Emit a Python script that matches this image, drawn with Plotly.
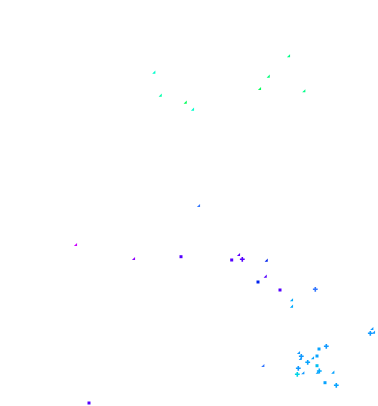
import plotly.graph_objects as go

x_vals = [154.3, 160.7, 185.7, 193.0, 289.0, 268.7, 260.0, 304.3,
          76.0, 134.0, 199.0, 181.0, 231.7, 239.0, 242.3, 266.7,
          265.7, 258.0, 280.0, 315.3, 292.0, 292.0, 263.3,
          299.0, 301.3, 300.7, 319.0, 326.3, 313.0, 317.0, 307.7,
          298.3, 303.3, 297.3, 317.0, 319.3, 317.7, 333.3, 325.0,
          336.3, 372.3, 370.3, 374.0, 89.0]
y_px = [72.7, 95.7, 102.7, 109.7, 56.3, 76.7, 89.0, 91.3,
        245.0, 259.0, 206.0, 256.7, 260.0, 255.0, 259.3, 260.7,
        276.7, 282.0, 290.0, 289.3, 300.3, 306.7, 366.0,
        353.0, 356.3, 359.0, 349.0, 346.3, 358.3, 356.0, 362.3,
        368.3, 373.3, 374.3, 365.7, 371.0, 372.7, 372.7, 382.7,
        385.3, 329.0, 333.3, 332.7, 403.0]
y_vals = [406 - v for v in y_px]
# Colour variable
score = [0.20, 0.15, 0.03, 0.20, 0.10, 0.08, 0.03, 0.10,
         1.00, 0.90, 0.55, 0.80, 0.80, 0.82, 0.80, 0.70,
         0.80, 0.70, 0.80, 0.55, 0.40, 0.40, 0.55,
         0.45, 0.45, 0.45, 0.42, 0.45, 0.42, 0.42, 0.42,
         0.45, 0.45, 0.30, 0.35, 0.40, 0.42, 0.42, 0.42,
         0.42, 0.45, 0.45, 0.45, 0.80]
# Category
group = ["c", "c", "c", "c", "c", "c", "c", "c",
         "c", "c", "c", "a", "a", "c", "b", "c",
         "c", "a", "a", "b", "c", "c", "c",
         "c", "b", "c", "a", "b", "c", "a", "b",
         "b", "c", "b", "a", "b", "c", "c", "a",
         "b", "c", "b", "c", "a"]

symbol_map = {"a": "square", "b": "cross", "c": "triangle-se"}
size_map = {"a": 3, "b": 4, "c": 3.5}

colorscale = [
    [0.0, "#00ff44"],
    [0.2, "#00ffcc"],
    [0.4, "#00aaff"],
    [0.55, "#3377ff"],
    [0.7, "#0022ee"],
    [0.8, "#5500ff"],
    [1.0, "#cc00ff"],
]

fig = go.Figure(go.Scatter(
    x=x_vals, y=y_vals, mode="markers",
    marker=dict(
        color=score, colorscale=colorscale, cmin=0, cmax=1,
        symbol=[symbol_map[g] for g in group],
        size=[size_map[g] for g in group],
        opacity=1,
        line=dict(width=0),
    ),
    hoverinfo="skip",
))

fig.update_layout(
    width=378, height=406,
    margin=dict(l=0, r=0, t=0, b=0),
    paper_bgcolor="white", plot_bgcolor="white",
    showlegend=False,
    xaxis=dict(range=[0, 378], visible=False),
    yaxis=dict(range=[0, 406], visible=False),
)

fig.write_html("out.html")
